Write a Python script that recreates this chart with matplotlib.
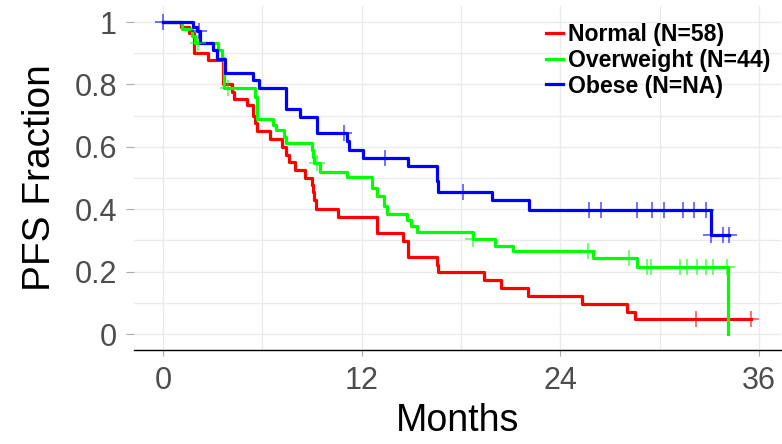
"""Kaplan-Meier style PFS curves by BMI group."""

import numpy as np
import matplotlib
matplotlib.use("Agg")
import matplotlib.pyplot as plt

plt.rcParams["font.family"] = ["Liberation Sans", "DejaVu Sans"]

# ---------------------------------------------------------------------------
# Data
# ---------------------------------------------------------------------------

red_t = [0, 1.07, 1.55, 1.87, 2.74, 3.60, 4.15, 4.30, 5.09, 5.45, 5.55, 5.70,
         6.46, 7.17, 7.43, 7.60, 7.97, 8.57, 8.98, 9.05, 9.12, 9.25, 10.59,
         12.94, 14.51, 14.81, 16.53, 16.60, 19.40, 20.41, 22.06, 25.28, 28.04,
         28.50, 35.49]
red_s = [1, .983, .966, .90, .878, .80, .777, .752, .734, .70, .675, .652,
         .624, .598, .574, .552, .526, .499, .478, .455, .43, .40, .374,
         .323, .299, .248, .22, .198, .173, .146, .123, .096, .071,
         .047, .047]
red_cens = [32.2, 35.49]

green_t = [0, 1.13, 1.75, 1.95, 3.34, 3.55, 3.68, 5.56, 5.66, 6.66, 6.80,
           7.31, 7.43, 8.98, 9.05, 9.12, 9.48, 11.13, 12.64, 12.94, 13.37,
           13.50, 14.71, 14.96, 15.36, 18.74, 20.05, 21.15, 25.98, 28.64,
           34.14]
green_s = [1, .977, .955, .932, .909, .886, .788, .76, .69, .67, .654,
           .632, .613, .59, .568, .547, .52, .504, .467, .443, .41,
           .385, .365, .346, .326, .306, .283, .267, .243, .216,
           0]
green_cens = [2.1, 3.95, 9.28, 18.74, 25.69, 28.16, 29.25, 29.45, 31.22,
              31.62, 32.23, 32.77, 33.19, 34.04]

blue_t = [0, 1.79, 2.05, 2.25, 3.0, 3.24, 3.74, 5.45, 5.82, 7.41, 8.27,
          9.28, 11.09, 11.25, 12.06, 14.78, 16.57, 16.62, 19.89, 22.12,
          33.07, 34.2]
blue_s = [1, .985, .97, .932, .91, .883, .835, .814, .79, .72, .694,
          .643, .617, .59, .565, .538, .49, .456, .43, .397,
          .317, .317]
blue_cens = [0, 2.15, 10.96, 13.41, 18.14, 25.75, 26.43, 28.6, 29.5, 30.25,
             31.42, 32.07, 32.77, 33.1, 33.84, 34.2]

labels = ["Normal (N=58)", "Overweight (N=44)", "Obese (N=NA)"]
colors = ["#FF0000", "#00FF00", "#0000FF"]


def surv_at(times, surv, t):
    idx = np.searchsorted(times, t, side="right") - 1
    return np.asarray(surv)[np.clip(idx, 0, len(surv) - 1)]


# ---------------------------------------------------------------------------
# Plot
# ---------------------------------------------------------------------------

fig = plt.figure(figsize=(7.82, 4.44), dpi=100)
ax = fig.add_axes([133.5 / 782, (444 - 349.6) / 444,
                   (780.7 - 133.5) / 782, (349.6 - 6.4) / 444])

groups = [(red_t, red_s, red_cens), (green_t, green_s, green_cens),
          (blue_t, blue_s, blue_cens)]
for (t, s, c), lab, col in zip(groups, labels, colors):
    ax.step(t, s, where="post", color=col, lw=2.3, label=lab, zorder=3)
    ax.plot(c, surv_at(t, s, c), ls="none", marker="+", ms=11, mew=1.1,
            color=col, alpha=0.7, zorder=4)

ax.set_xlim(-1.78, 37.3)
ax.set_ylim(-0.05, 1.05)
ax.set_xticks([0, 12, 24, 36])
ax.set_xticks([6, 18, 30], minor=True)
ax.set_yticks([0, 0.2, 0.4, 0.6, 0.8, 1.0])
ax.set_yticklabels(["0", "0.2", "0.4", "0.6", "0.8", "1"])
ax.set_yticks([0.1, 0.3, 0.5, 0.7, 0.9], minor=True)

ax.grid(which="both", color="#EBEBEB", lw=1.0, zorder=0)
ax.set_axisbelow(True)
for side in ("top", "right", "left"):
    ax.spines[side].set_visible(False)
ax.spines["bottom"].set_color("black")
ax.spines["bottom"].set_linewidth(1.0)

ax.tick_params(axis="both", which="major", labelsize=22, colors="#4D4D4D")
ax.tick_params(axis="y", which="major", length=6, width=0.8, color="#AAAAAA", pad=6)
ax.tick_params(axis="x", which="major", length=4, width=0.8, color="#AAAAAA", pad=8)
ax.tick_params(which="minor", length=0)

ax.set_xlabel("Months", fontsize=27, color="black", labelpad=5)
ax.set_ylabel("PFS Fraction", fontsize=28, color="black", labelpad=12)

ax.legend(loc="upper left", bbox_to_anchor=(546 / 782, 1 - 23 / 444),
          bbox_transform=fig.transFigure, frameon=False,
          prop={"size": 16.6, "weight": "bold"}, handlelength=0.75,
          handletextpad=0.2, labelspacing=0.12, borderpad=0, borderaxespad=0)

fig.savefig("out.png", dpi=100)
